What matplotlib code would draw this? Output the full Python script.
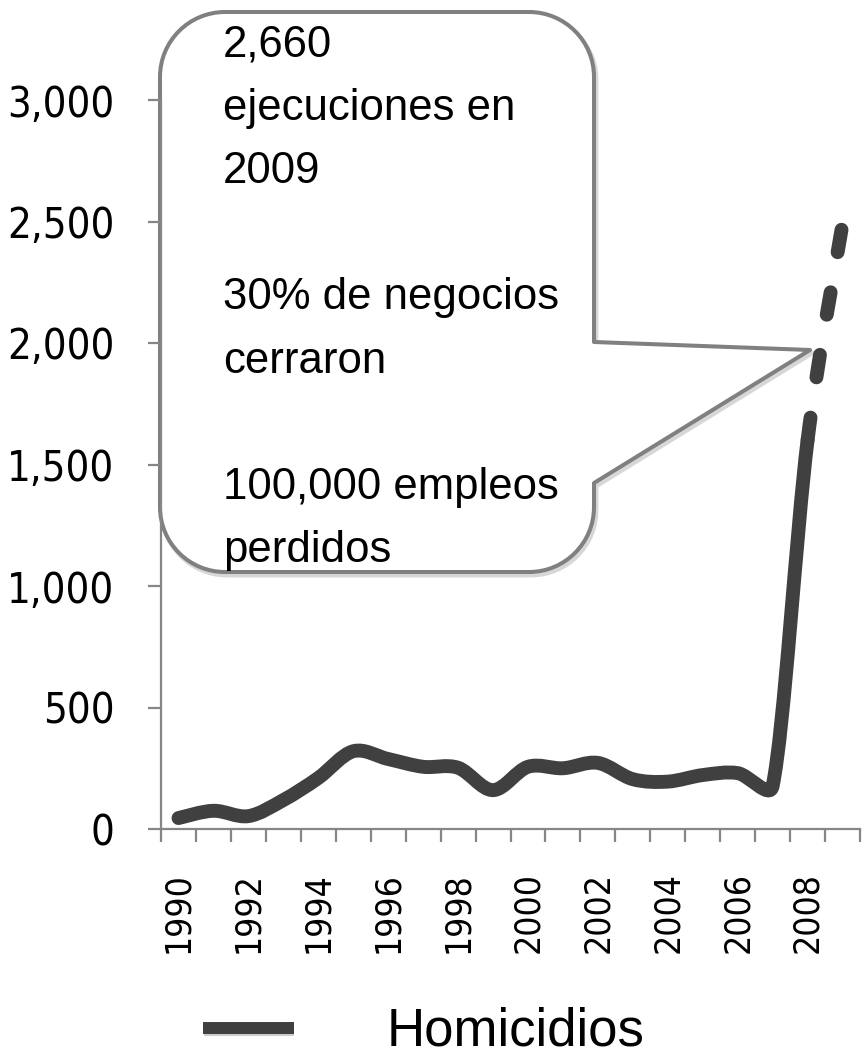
import matplotlib
matplotlib.use("Agg")
import matplotlib.pyplot as plt
import numpy as np
from matplotlib.path import Path
from matplotlib.patches import PathPatch
from matplotlib.lines import Line2D
from matplotlib.ticker import FuncFormatter, FixedLocator
import matplotlib.patheffects as pe
import matplotlib.transforms as mtrans

# ---- data ----
years = [1990, 1991, 1992, 1993, 1994, 1995, 1996, 1997, 1998, 1999,
         2000, 2001, 2002, 2003, 2004, 2005, 2006, 2007, 2008, 2009]
homicidios = [45, 75, 53, 119, 210, 320, 288, 256, 252, 160,
              256, 250, 272, 205, 195, 222, 230, 177, 1600, 2490]
series_label = "Homicidios"
yticks = [0, 500, 1000, 1500, 2000, 2500, 3000]
xtick_years = [1990, 1992, 1994, 1996, 1998, 2000, 2002, 2004, 2006, 2008]
callout_lines = ["2,660", "ejecuciones en", "2009", "",
                 "30% de negocios", "cerraron", "",
                 "100,000 empleos", "perdidos"]

LINE_C = "#404040"
AXIS_C = "#868686"
W, H = 866, 1059

fig = plt.figure(figsize=(W / 100, H / 100), dpi=100)
fig.patch.set_facecolor("white")

# overlay axes (pixel coordinates) for the callout
ov = fig.add_axes([0, 0, 1, 1], zorder=0)
ov.set_xlim(0, W)
ov.set_ylim(H, 0)
ov.axis("off")

ax = fig.add_axes([161 / W, 1 - 829 / H, 699 / W, 729 / H], zorder=1)
ax.patch.set_alpha(0)

ax.set_xlim(-0.5, len(years) - 0.5)
ax.set_ylim(0, 3000)

x = np.arange(len(years), dtype=float)
y = np.array(homicidios, dtype=float)


def smooth_path(xs, ys, start, end, frac=0.4):
    """Excel-like smoothed line: cubic Bezier between data points, with
    control arms limited relative to the segment length (in display space)."""
    P = np.column_stack([xs, ys])
    D = ax.transData.transform(P)          # display space for arm limiting
    n = len(xs)

    def arm(i, seg_len):
        a = (D[min(i + 1, n - 1)] - D[max(i - 1, 0)]) / 6.0
        L = np.hypot(*a)
        if L > frac * seg_len and L > 0:
            a = a * frac * seg_len / L
        return a

    verts = [D[start]]
    codes = [Path.MOVETO]
    for i in range(start, end):
        d = np.hypot(*(D[i + 1] - D[i]))
        c1 = D[i] + arm(i, d)
        c2 = D[i + 1] - arm(i + 1, d)
        verts += [c1, c2, D[i + 1]]
        codes += [Path.CURVE4] * 3
    Vd = np.array(verts)
    Vdata = ax.transData.inverted().transform(Vd)
    return Path(Vdata, codes)


n = len(years)
solid = PathPatch(smooth_path(x, y, 0, n - 2), fill=False, edgecolor=LINE_C,
                  lw=10, capstyle="round", joinstyle="round", zorder=3)
dashed = PathPatch(smooth_path(x, y, n - 2, n - 1), fill=False, edgecolor=LINE_C,
                   lw=10, capstyle="round", joinstyle="round",
                   linestyle=(0, (1.64, 2.93)), zorder=3)
ax.add_patch(solid)
ax.add_patch(dashed)

# spines
for s in ["top", "right"]:
    ax.spines[s].set_visible(False)
for s in ["left", "bottom"]:
    ax.spines[s].set_color(AXIS_C)
    ax.spines[s].set_linewidth(1.6)

# y ticks
ax.yaxis.set_major_locator(FixedLocator(yticks))
ax.yaxis.set_major_formatter(FuncFormatter(lambda v, p: f"{int(v):,}"))
ax.tick_params(axis="y", which="major", direction="out", length=9.5, width=1.6,
               color=AXIS_C, pad=24, labelsize=30, labelcolor="black")
for lab in ax.get_yticklabels():
    lab.set_family("DejaVu Sans")
    lab.set_stretch("condensed")

# x ticks
xt = [years.index(yy) for yy in xtick_years]
ax.set_xticks(xt)
ax.set_xticklabels([str(v) for v in xtick_years], rotation=90,
                   family="DejaVu Sans", stretch="condensed")
ax.tick_params(axis="x", which="major", length=0, pad=31, labelsize=25.5,
               labelcolor="black")
ax.set_xticks(np.arange(-0.5, n, 1.0), minor=True)
ax.tick_params(axis="x", which="minor", direction="out", length=9.5, width=1.6,
               color=AXIS_C)

# ---- callout ----
L, R, T, B, r = 160, 594, 12, 572, 65
k = 0.5523
tip = (810, 350)
py1, py2 = 342, 483
verts = [
    (L + r, T), (R - r, T),
    (R - r + k * r, T), (R, T + r - k * r), (R, T + r),
    (R, py1), tip, (R, py2), (R, B - r),
    (R, B - r + k * r), (R - r + k * r, B), (R - r, B),
    (L + r, B),
    (L + r - k * r, B), (L, B - r + k * r), (L, B - r),
    (L, T + r),
    (L, T + r - k * r), (L + r - k * r, T), (L + r, T),
    (L + r, T),
]
codes = [Path.MOVETO, Path.LINETO,
         Path.CURVE4, Path.CURVE4, Path.CURVE4,
         Path.LINETO, Path.LINETO, Path.LINETO, Path.LINETO,
         Path.CURVE4, Path.CURVE4, Path.CURVE4,
         Path.LINETO,
         Path.CURVE4, Path.CURVE4, Path.CURVE4,
         Path.LINETO,
         Path.CURVE4, Path.CURVE4, Path.CURVE4,
         Path.CLOSEPOLY]
cpath = Path(verts, codes)
shadow = PathPatch(cpath.transformed(mtrans.Affine2D().translate(2, 3)),
                   facecolor="none", edgecolor="#b0b0b0", lw=3.5, alpha=0.5,
                   joinstyle="round")
ov.add_patch(shadow)
callout = PathPatch(cpath, facecolor="white", edgecolor="#808080", lw=2.9,
                    joinstyle="round")
ov.add_patch(callout)

base0, step = 56.7, 63.2
for i, line in enumerate(callout_lines):
    if line:
        ov.text(223, base0 + i * step, line, fontsize=31.5, family="Liberation Sans",
                va="baseline", ha="left", color="black")

# ---- legend ----
h = Line2D([], [], color=LINE_C, lw=8.6, solid_capstyle="butt",
           path_effects=[pe.SimpleLineShadow(offset=(0.5, -2), shadow_color="#999999", alpha=0.5),
                         pe.Normal()])
leg = fig.legend([h], [series_label], loc="center left",
                 bbox_to_anchor=(203 / W, 1 - 1032 / H), frameon=False,
                 prop={"family": "Liberation Sans", "size": 38},
                 handlelength=1.72, handletextpad=1.75, borderpad=0, borderaxespad=0)

fig.savefig("out.png", dpi=100, facecolor="white")
